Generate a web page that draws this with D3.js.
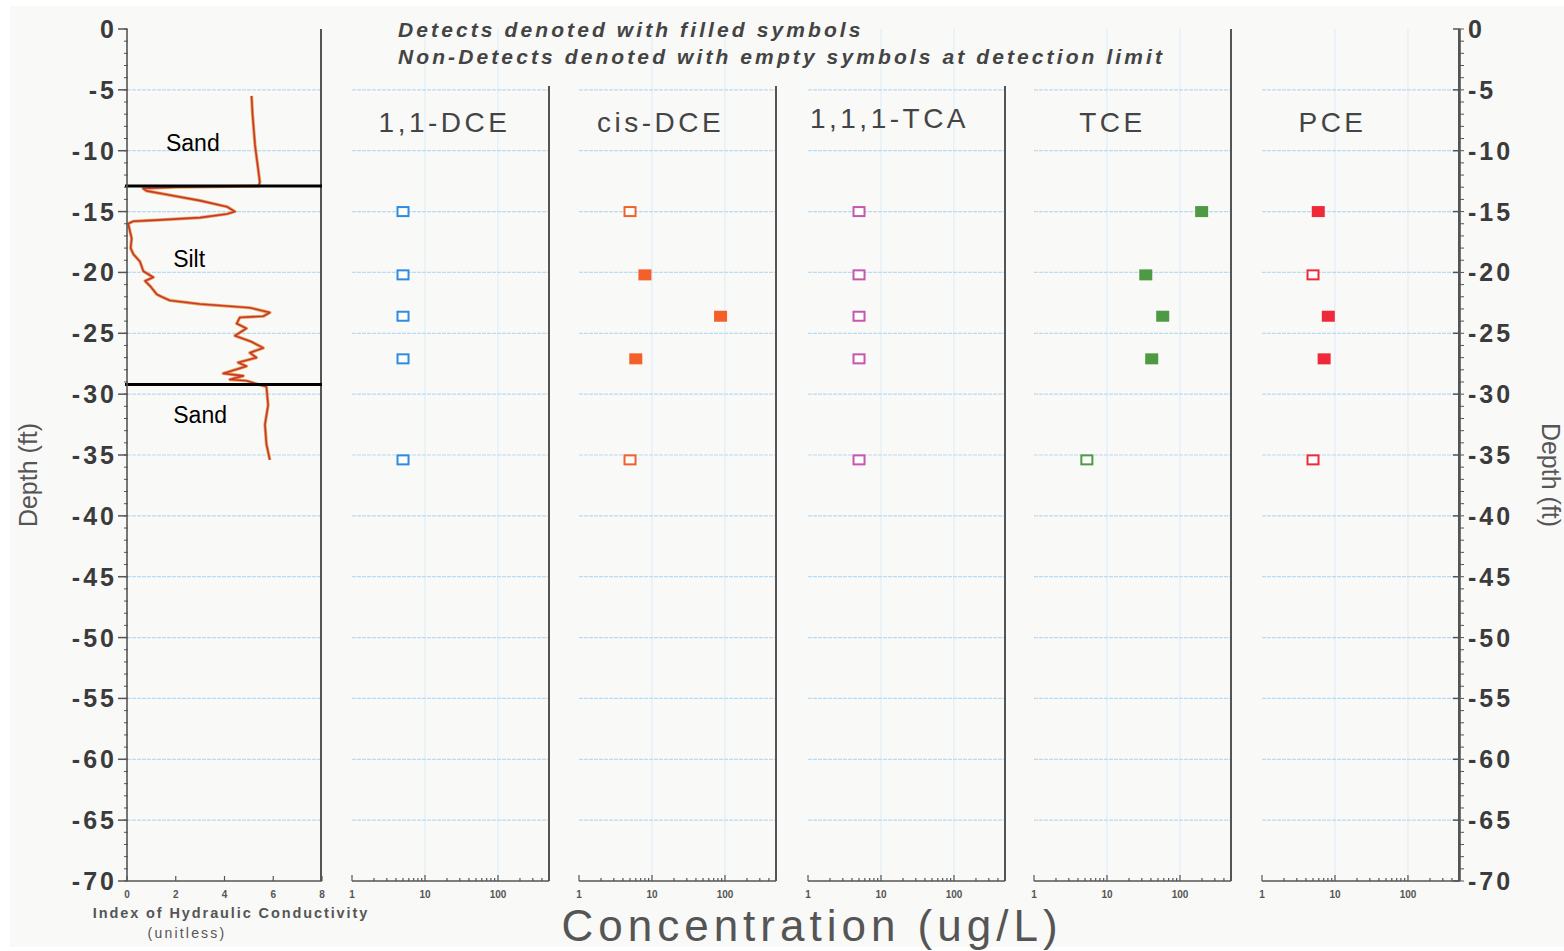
<!DOCTYPE html>
<html>
<head>
<meta charset="utf-8">
<script src="https://d3js.org/d3.v7.min.js"></script>
<style>
  html, body { margin: 0; padding: 0; background: #fff; }
  svg { display: block; }
  text { font-family: "Liberation Sans", Arial, sans-serif; }
</style>
</head>
<body>
<div id="chart"></div>
<script>
// ---- data ----
const depthTicks = [0, -5, -10, -15, -20, -25, -30, -35, -40, -45, -50, -55, -60, -65, -70];
const hydTicks = [0, 2, 4, 6, 8];
const concTicks = [1, 10, 100];

const compounds = ["1,1-DCE", "cis-DCE", "1,1,1-TCA", "TCE", "PCE"];
const compoundColors = ["#2f8be0", "#f4602a", "#c558ae", "#4e9a44", "#ee2a3a"];
const sampleDepths = [-15, -20.2, -23.6, -27.1, -35.4];

const conc_11DCE = [5, 5, 5, 5, 5];
const det_11DCE = [0, 0, 0, 0, 0];
const conc_cisDCE = [5, 8, 87, 6, 5];
const det_cisDCE = [0, 1, 1, 1, 0];
const conc_111TCA = [5, 5, 5, 5, 5];
const det_111TCA = [0, 0, 0, 0, 0];
const conc_TCE = [198, 34, 58, 41, 5.3];
const det_TCE = [1, 1, 1, 1, 0];
const conc_PCE = [5.9, 5, 8.1, 7.1, 5];
const det_PCE = [1, 0, 1, 1, 0];

const concSeries = [conc_11DCE, conc_cisDCE, conc_111TCA, conc_TCE, conc_PCE];
const detSeries = [det_11DCE, det_cisDCE, det_111TCA, det_TCE, det_PCE];

// hydraulic conductivity index trace
const hydDepth = [-5.5, -7, -9.5, -10.3, -11.5, -12.6, -12.9, -13.0, -13.1, -13.3, -13.5, -14.1, -14.6, -15.0,
  -15.2, -15.5, -15.7, -15.8, -16.0, -16.6, -17.2, -18.0, -18.5, -19.1, -19.5, -19.9, -20.4, -20.7, -21.1,
  -21.8, -22.0, -22.3, -22.6, -22.9, -23.3, -23.6, -23.7, -24.2, -24.6, -25.2, -25.7, -26.2, -26.6, -27.0,
  -27.4, -27.7, -28.3, -28.5, -28.8, -28.9, -29.4, -30.9, -32.5, -34.1, -35.4];
const hydIndex = [5.11, 5.15, 5.25, 5.3, 5.38, 5.45, 5.4, 2.0, 0.66, 0.8, 1.35, 3.0, 4.1, 4.43,
  4.1, 3.0, 1.2, 0.25, 0.05, 0.12, 0.19, 0.15, 0.26, 0.53, 0.6, 0.67, 1.08, 0.74, 0.94,
  1.22, 1.42, 1.76, 2.99, 5.04, 5.86, 5.59, 4.63, 4.5, 4.9, 4.43, 5.11, 5.59, 5.04, 5.31,
  4.56, 4.9, 3.95, 4.77, 4.22, 4.9, 5.72, 5.79, 5.66, 5.72, 5.86];

const layerBounds = [-12.9, -29.2];
const layerNames = ["Sand", "Silt", "Sand"];
const layerMid = [-9.4, -18.9, -31.7];

// ---- layout ----
const width = 1564, height = 951;
const yTop = 29, yBot = 881;
const hydLeft = 127, hydRight = 322;
const panelStarts = [352, 579, 808, 1034, 1262];
const panelWidth = 197;
const titleShift = [-6, -17, -17, -20, -28];
const axisColor = "#555";
const gridColor = "#b9dcf3";

const svg = d3.select("#chart").append("svg")
  .attr("width", width).attr("height", height);

svg.append("rect").attr("width", width).attr("height", height).attr("fill", "#fff");
svg.append("rect").attr("x", 10).attr("y", 6).attr("width", width - 10).attr("height", height - 10)
  .attr("fill", "#f9f9f8");

const y = d3.scaleLinear().domain([0, -70]).range([yTop, yBot]);
const xHyd = d3.scaleLinear().domain([0, 8]).range([hydLeft, hydRight]);
const xConc = panelStarts.map(s => d3.scaleLog().domain([1, 500]).range([s, s + panelWidth]));

const gridDepths = depthTicks.filter(d => d < 0 && d > -70);

// horizontal gridlines
const drawHGrid = (x1, x2) => {
  svg.append("g").selectAll("line").data(gridDepths).join("line")
    .attr("x1", x1).attr("x2", x2)
    .attr("y1", d => y(d)).attr("y2", d => y(d))
    .attr("stroke", gridColor).attr("stroke-width", 1.2)
    .attr("stroke-dasharray", "4,1");
};

drawHGrid(hydLeft, hydRight);

// concentration panels
compounds.forEach((name, i) => {
  const xs = xConc[i];
  const [x0, x1] = xs.range();

  // faint vertical gridlines at decades
  svg.append("g").selectAll("line").data([10, 100]).join("line")
    .attr("x1", d => xs(d)).attr("x2", d => xs(d))
    .attr("y1", yTop).attr("y2", yBot)
    .attr("stroke", "#dcecf7").attr("stroke-width", 1);

  drawHGrid(x0, x1);

  // right border of panel
  svg.append("line")
    .attr("x1", x1).attr("x2", x1)
    .attr("y1", (i === 3 || i === 4) ? yTop : 86).attr("y2", yBot)
    .attr("stroke", axisColor).attr("stroke-width", 2);

  // bottom log axis
  const minor = [];
  [1, 10, 100].forEach(dec => { for (let k = 1; k < 10; k++) if (dec * k <= 500) minor.push(dec * k); });
  const ax = svg.append("g").attr("transform", `translate(0,${yBot})`);
  ax.append("line").attr("x1", x0).attr("x2", x1).attr("stroke", axisColor).attr("stroke-width", 1.5);
  ax.selectAll("line.minor").data(minor).join("line").attr("class", "minor")
    .attr("x1", d => xs(d)).attr("x2", d => xs(d))
    .attr("y1", 0).attr("y2", d => concTicks.includes(d) ? -6 : -3)
    .attr("stroke", axisColor).attr("stroke-width", 1.2);
  ax.selectAll("text").data(concTicks).join("text")
    .attr("x", d => xs(d)).attr("y", 17)
    .attr("text-anchor", "middle")
    .attr("font-size", 10).attr("font-weight", "bold").attr("fill", "#555")
    .text(d => d);

  // title
  svg.append("text")
    .attr("x", (x0 + x1) / 2 + titleShift[i]).attr("y", i === 2 ? 128 : 132)
    .attr("text-anchor", "middle")
    .attr("font-size", 28).attr("letter-spacing", "3.5px").attr("fill", "#444")
    .text(name);

  // markers
  const pts = sampleDepths.map((d, j) => ({ d: d, c: concSeries[i][j], det: detSeries[i][j] }));
  svg.append("g").selectAll("rect").data(pts).join("rect")
    .attr("x", p => xs(p.c) - 5.5).attr("y", p => y(p.d) - 4.5)
    .attr("width", 11).attr("height", 9)
    .attr("fill", p => p.det ? compoundColors[i] : "#fff")
    .attr("stroke", compoundColors[i]).attr("stroke-width", 2);
});

// hydraulic conductivity panel
svg.append("line").attr("x1", 321).attr("x2", 321).attr("y1", yTop).attr("y2", yBot)
  .attr("stroke", axisColor).attr("stroke-width", 2);

const hydLine = d3.line().x(d => xHyd(d[1])).y(d => y(d[0]));
const hydPts = hydDepth.map((d, i) => [d, hydIndex[i]]);
svg.append("path").attr("d", hydLine(hydPts)).attr("fill", "none")
  .attr("stroke", "#e6a64a").attr("stroke-width", 3.2).attr("stroke-linejoin", "round");
svg.append("path").attr("d", hydLine(hydPts)).attr("fill", "none")
  .attr("stroke", "#c8363a").attr("stroke-width", 1.6).attr("stroke-linejoin", "round");

svg.append("g").selectAll("line").data(layerBounds).join("line")
  .attr("x1", xHyd(0) - 2).attr("x2", 322)
  .attr("y1", d => y(d)).attr("y2", d => y(d))
  .attr("stroke", "#000").attr("stroke-width", 3);

const layerX = [2.7, 2.55, 3.0];
svg.append("g").selectAll("text").data(layerNames).join("text")
  .attr("x", (d, i) => xHyd(layerX[i])).attr("y", (d, i) => y(layerMid[i]) + 8)
  .attr("text-anchor", "middle").attr("font-size", 23).attr("fill", "#000")
  .text(d => d);

// hydraulic bottom axis
const hAx = svg.append("g").attr("transform", `translate(0,${yBot})`);
hAx.append("line").attr("x1", hydLeft).attr("x2", hydRight).attr("stroke", axisColor).attr("stroke-width", 1.5);
hAx.selectAll("line.t").data(hydTicks).join("line").attr("class", "t")
  .attr("x1", d => xHyd(d)).attr("x2", d => xHyd(d)).attr("y1", 0).attr("y2", -5)
  .attr("stroke", axisColor).attr("stroke-width", 1.2);
hAx.selectAll("text").data(hydTicks).join("text")
  .attr("x", d => xHyd(d)).attr("y", 17).attr("text-anchor", "middle")
  .attr("font-size", 10).attr("font-weight", "bold").attr("fill", "#555")
  .text(d => d);

svg.append("text").attr("x", 231).attr("y", 918).attr("text-anchor", "middle")
  .attr("font-size", 14.5).attr("font-weight", "bold").attr("letter-spacing", "1.9px").attr("fill", "#555")
  .text("Index of Hydraulic Conductivity");
svg.append("text").attr("x", 187).attr("y", 938).attr("text-anchor", "middle")
  .attr("font-size", 14).attr("letter-spacing", "2.2px").attr("fill", "#555")
  .text("(unitless)");

// depth axes (left and right)
const minorDepths = d3.range(0, -71, -1);
const drawDepthAxis = (x, side) => {
  const g = svg.append("g");
  g.append("line").attr("x1", x).attr("x2", x).attr("y1", yTop).attr("y2", yBot)
    .attr("stroke", axisColor).attr("stroke-width", 1.6);
  g.selectAll("line.mn").data(minorDepths).join("line").attr("class", "mn")
    .attr("x1", side === "left" ? x - 3 : x).attr("x2", side === "left" ? x + 1 : x + 4)
    .attr("y1", d => y(d)).attr("y2", d => y(d))
    .attr("stroke", axisColor).attr("stroke-width", 1);
  g.selectAll("line.mj").data(depthTicks).join("line").attr("class", "mj")
    .attr("x1", side === "left" ? x - 9 : x - 7).attr("x2", x)
    .attr("y1", d => y(d)).attr("y2", d => y(d))
    .attr("stroke", axisColor).attr("stroke-width", 1.5);
  g.selectAll("text").data(depthTicks).join("text")
    .attr("x", side === "left" ? x - 10 : x + 8)
    .attr("y", d => y(d) + 9)
    .attr("text-anchor", side === "left" ? "end" : "start")
    .attr("font-family", "DejaVu Sans").attr("font-weight", "bold")
    .attr("font-size", 25).attr("letter-spacing", "3px").attr("fill", "#3b3b3b")
    .text(d => d);
};
drawDepthAxis(hydLeft, "left");
drawDepthAxis(1460, "right");

svg.append("text").attr("transform", `translate(37,475) rotate(-90)`)
  .attr("text-anchor", "middle").attr("font-size", 25).attr("fill", "#555")
  .text("Depth (ft)");
svg.append("text").attr("transform", `translate(1542,475) rotate(90)`)
  .attr("text-anchor", "middle").attr("font-size", 25).attr("fill", "#555")
  .text("Depth (ft)");

// notes and overall x label
svg.append("text").attr("x", 398).attr("y", 37)
  .attr("font-size", 21).attr("font-weight", "bold").attr("font-style", "italic")
  .attr("letter-spacing", "3.1px").attr("fill", "#444")
  .text("Detects denoted with filled symbols");
svg.append("text").attr("x", 398).attr("y", 64)
  .attr("font-size", 21).attr("font-weight", "bold").attr("font-style", "italic")
  .attr("letter-spacing", "3.1px").attr("fill", "#444")
  .text("Non-Detects denoted with empty symbols at detection limit");

svg.append("text").attr("x", 812).attr("y", 941).attr("text-anchor", "middle")
  .attr("font-size", 44).attr("letter-spacing", "5px").attr("fill", "#555")
  .text("Concentration (ug/L)");
</script>
</body>
</html>
